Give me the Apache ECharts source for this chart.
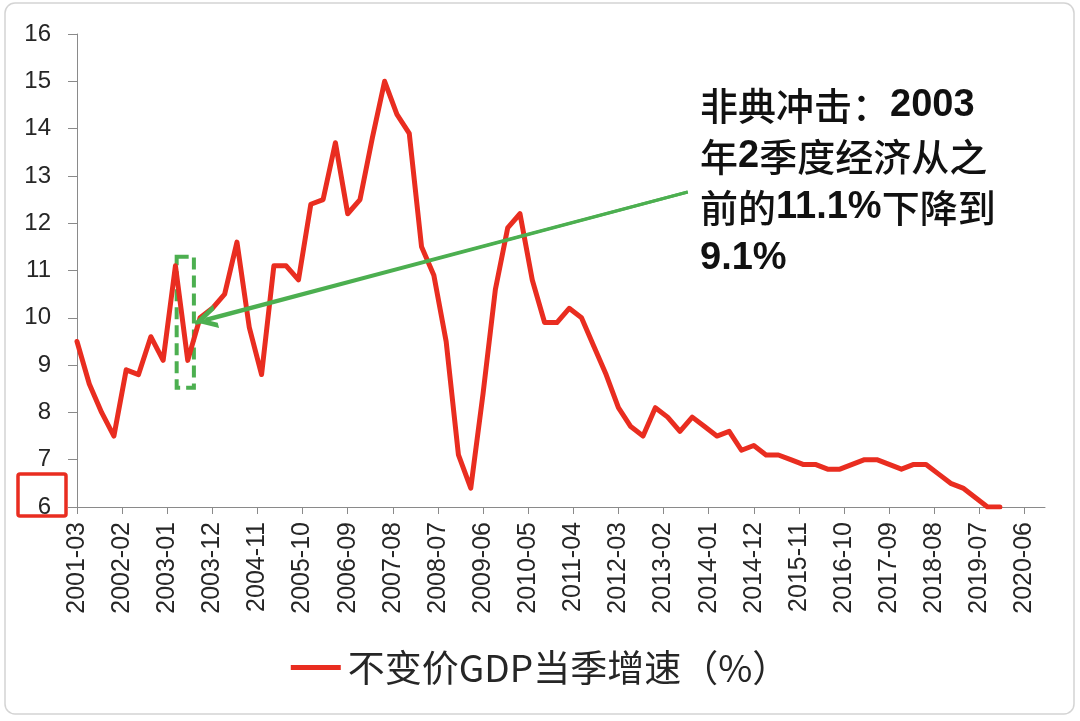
<!DOCTYPE html>
<html>
<head>
<meta charset="utf-8">
<script src="https://cdn.jsdelivr.net/npm/echarts@6/dist/echarts.min.js"></script>
<style>
html,body{margin:0;padding:0;background:#fff;}
#c{width:1080px;height:721px;}
</style>
</head>
<body>
<div id="c"></div>
<script>
// ---- data ----
const quarters = [
  '2001-03','2001-06','2001-09','2001-12',
  '2002-03','2002-06','2002-09','2002-12',
  '2003-03','2003-06','2003-09','2003-12',
  '2004-03','2004-06','2004-09','2004-12',
  '2005-03','2005-06','2005-09','2005-12',
  '2006-03','2006-06','2006-09','2006-12',
  '2007-03','2007-06','2007-09','2007-12',
  '2008-03','2008-06','2008-09','2008-12',
  '2009-03','2009-06','2009-09','2009-12',
  '2010-03','2010-06','2010-09','2010-12',
  '2011-03','2011-06','2011-09','2011-12',
  '2012-03','2012-06','2012-09','2012-12',
  '2013-03','2013-06','2013-09','2013-12',
  '2014-03','2014-06','2014-09','2014-12',
  '2015-03','2015-06','2015-09','2015-12',
  '2016-03','2016-06','2016-09','2016-12',
  '2017-03','2017-06','2017-09','2017-12',
  '2018-03','2018-06','2018-09','2018-12',
  '2019-03','2019-06','2019-09','2019-12'
];
const gdpGrowth = [
  9.5, 8.6, 8.0, 7.5,
  8.9, 8.8, 9.6, 9.1,
  11.1, 9.1, 10.0, 10.2,
  10.5, 11.6, 9.8, 8.8,
  11.1, 11.1, 10.8, 12.4,
  12.5, 13.7, 12.2, 12.5,
  13.8, 15.0, 14.3, 13.9,
  11.5, 10.9, 9.5, 7.1,
  6.4, 8.4, 10.6, 11.9,
  12.2, 10.8, 9.9, 9.9,
  10.2, 10.0, 9.4, 8.8,
  8.1, 7.7, 7.5, 8.1,
  7.9, 7.6, 7.9, 7.7,
  7.5, 7.6, 7.2, 7.3,
  7.1, 7.1, 7.0, 6.9,
  6.9, 6.8, 6.8, 6.9,
  7.0, 7.0, 6.9, 6.8,
  6.9, 6.9, 6.7, 6.5,
  6.4, 6.2, 6.0, 6.0
];
const tickLabels = [
  '2001-03','2002-02','2003-01','2003-12','2004-11','2005-10','2006-09',
  '2007-08','2008-07','2009-06','2010-05','2011-04','2012-03','2013-02',
  '2014-01','2014-12','2015-11','2016-10','2017-09','2018-08','2019-07','2020-06'
];
const seriesName = '不变价GDP当季增速（%）';
const axisEnd = '2020-11';
const yMin = 6, yMax = 16, yStep = 1;
// annotation anchors (month offsets from 2001-03, value)
const arrowFrom = [148.9, 12.66];
const arrowTip = [28.8, 9.88];
const arrowHeadCenter = [31.3, 9.97];
const boxFrom = [24.3, 11.29];
const boxTo = [28.5, 8.52];

// ---- helpers ----
const BASE_Y = 2001, BASE_M = 3;
function toIdx(s){ const p = s.split('-'); return (parseInt(p[0])-BASE_Y)*12 + (parseInt(p[1])-BASE_M); }
function fromIdx(v){
  const t = Math.round(v) + (BASE_M-1);
  const y = BASE_Y + Math.floor(t/12), m = t%12 + 1;
  return y + '-' + (m<10?'0':'') + m;
}
const tickIdx = tickLabels.map(toIdx);
const seriesData = quarters.map((q,i)=>[toIdx(q), gdpGrowth[i]]);

const RED = '#E92D20', GREEN = '#4CAF50', AXIS = '#8a8a8a', TXT = '#262626';
const LATIN = '"Liberation Sans", "Noto Sans CJK SC", sans-serif';
const CJK = '"Noto Sans CJK SC", "Liberation Sans", sans-serif';
const CHEVRON = 'path://M10,0 L20,20 L15.5,20 L10,9 L4.5,20 L0,20 Z';

const chart = echarts.init(document.getElementById('c'), null, {renderer:'canvas'});
chart.setOption({
  animation: false,
  backgroundColor: '#fff',
  grid: { left: 77, right: 35, top: 34, bottom: 214, containLabel: false },
  xAxis: {
    type: 'value', min: 0, max: toIdx(axisEnd),
    splitLine: { show: false },
    axisLine: { show: true, lineStyle: { color: AXIS, width: 1 } },
    axisTick: { show: true, length: 7, lineStyle: { color: AXIS }, customValues: tickIdx },
    axisLabel: { show: true, rotate: 90, margin: 15, fontSize: 25, color: TXT,
      fontFamily: LATIN, customValues: tickIdx, formatter: v => fromIdx(v) }
  },
  yAxis: {
    type: 'value', min: yMin, max: yMax, interval: yStep,
    splitLine: { show: false },
    axisLine: { show: true, lineStyle: { color: AXIS, width: 1 } },
    axisTick: { show: true, length: 9, lineStyle: { color: AXIS } },
    axisLabel: { margin: 26, fontSize: 24, color: TXT, fontFamily: LATIN }
  },
  legend: {
    left: 'center', top: 644,
    icon: 'rect', itemWidth: 50, itemHeight: 5, itemGap: 10,
    textStyle: { fontSize: 37, color: TXT, fontFamily: CJK, padding: [0,0,0,2] },
    data: [seriesName]
  },
  series: [{
    name: seriesName, type: 'line',
    data: seriesData,
    showSymbol: false, symbol: 'none',
    itemStyle: { color: RED },
    lineStyle: { color: RED, width: 5, cap: 'round', join: 'round' },
    markArea: {
      silent: true,
      itemStyle: { color: 'rgba(0,0,0,0)', borderColor: GREEN, borderWidth: 4, borderType: [12, 6] },
      data: [[ { coord: boxFrom }, { coord: boxTo } ]]
    },
    markLine: {
      silent: true,
      symbol: ['none', 'none'],
      lineStyle: { color: GREEN, width: 3, type: 'solid' },
      label: { show: false },
      emphasis: { disabled: true },
      data: [
        [ { coord: arrowFrom }, { coord: arrowTip } ],
        [ { coord: arrowFrom, symbol: 'none' }, { coord: arrowHeadCenter, symbol: CHEVRON, symbolSize: [24, 22] } ]
      ]
    }
  }],
  graphic: [
    { type: 'rect', silent: true, z: -1,
      shape: { x: 5, y: 3, width: 1069, height: 711, r: 10 },
      style: { fill: 'none', stroke: '#d4d4d4', lineWidth: 1.5 } },
    { type: 'rect', silent: true,
      shape: { x: 18, y: 474, width: 48, height: 42, r: 2 },
      style: { fill: 'none', stroke: RED, lineWidth: 3.5 } },
    { type: 'text', left: 700, top: 87, silent: true,
      style: {
        text: '{c|非典冲击：}{b|2003}\n{c|年}{b|2}{c|季度经济从之}\n{c|前的}{b|11.1%}{c|下降到}\n{b|9.1%}',
        rich: {
          c: { fontSize: 38, fontFamily: CJK, fontWeight: 500, lineHeight: 51, fill: '#111' },
          b: { fontSize: 38, fontFamily: LATIN, fontWeight: 'bold', lineHeight: 51, fill: '#111' }
        }
      } }
  ]
});
</script>
</body>
</html>
